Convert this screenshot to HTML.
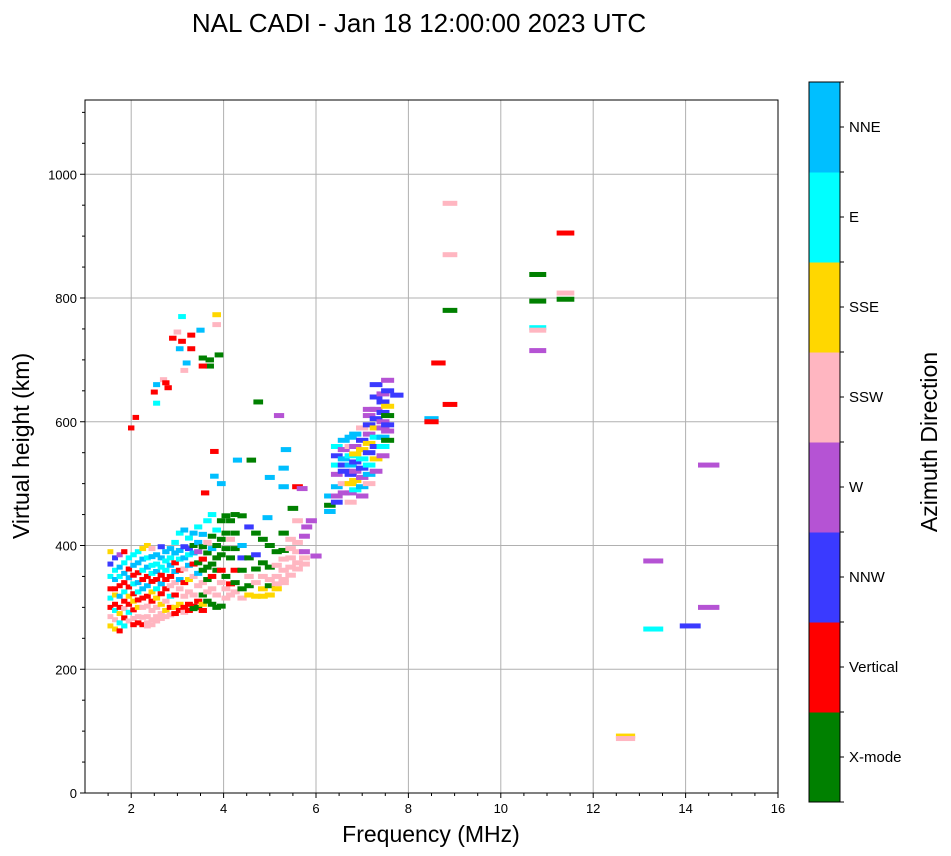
<!DOCTYPE html>
<html><head><meta charset="utf-8"><style>
body{margin:0;background:#fff;}
svg{display:block;font-family:"Liberation Sans","DejaVu Sans",sans-serif;}
</style></head><body>
<svg id="chart" width="951" height="856" viewBox="0 0 951 856" xmlns="http://www.w3.org/2000/svg">
<text x="419" y="32" font-size="26" text-anchor="middle">NAL CADI - Jan 18 12:00:00 2023 UTC</text>
<g id="grid"></g>
<g id="marks"></g>
<rect x="85" y="100" width="693" height="693" fill="none" stroke="#000" stroke-width="1"/>
<g id="axes"></g>
<text x="431" y="842" font-size="23" text-anchor="middle">Frequency (MHz)</text>
<text transform="translate(29,446) rotate(-90)" font-size="23" text-anchor="middle">Virtual height (km)</text>
<g id="cbar"></g>
<text transform="translate(937,442) rotate(-90)" font-size="23" text-anchor="middle">Azimuth Direction</text>
</svg>
<script>
const dirNames=["X-mode","Vertical","NNW","W","SSW","SSE","E","NNE"];
const dirColors=["#008000","#ff0000","#3a3aff","#b553d4","#ffb6c1","#ffd700","#00ffff","#00bfff"];
const xTicks=[2,4,6,8,10,12,14,16];
const yTicks=[0,200,400,600,800,1000];
// low-frequency cluster + sloping trace [freq, height, dir]
const lowPts=[
[1.55,390,5],[1.55,370,2],[1.55,350,6],[1.55,330,1],[1.55,315,6],[1.55,300,1],[1.55,285,4],[1.55,270,5],
[1.65,380,2],[1.65,360,6],[1.65,345,7],[1.65,330,1],[1.65,320,5],[1.65,305,1],[1.65,295,6],[1.65,280,4],[1.65,265,5],
[1.75,385,3],[1.75,365,7],[1.75,350,6],[1.75,335,1],[1.75,318,7],[1.75,300,1],[1.75,290,5],[1.75,275,6],[1.75,262,1],
[1.85,390,1],[1.85,372,6],[1.85,355,7],[1.85,340,1],[1.85,325,6],[1.85,310,1],[1.85,298,4],[1.85,283,1],[1.85,270,6],
[1.95,380,6],[1.95,362,1],[1.95,348,7],[1.95,333,1],[1.95,318,5],[1.95,305,1],[1.95,292,6],[1.95,278,4],
[2.05,385,6],[2.05,368,7],[2.05,352,1],[2.05,338,6],[2.05,322,1],[2.05,310,5],[2.05,296,1],[2.05,282,4],[2.05,272,1],
[2.15,390,6],[2.15,372,7],[2.15,356,1],[2.15,340,7],[2.15,325,6],[2.15,312,1],[2.15,300,5],[2.15,285,4],[2.15,275,1],
[2.25,395,5],[2.25,378,7],[2.25,360,6],[2.25,345,1],[2.25,330,7],[2.25,315,1],[2.25,300,4],[2.25,284,4],[2.25,272,1],
[2.35,400,5],[2.35,380,6],[2.35,365,7],[2.35,350,1],[2.35,335,7],[2.35,318,1],[2.35,302,4],[2.35,285,4],[2.35,275,4],[2.35,270,4],
[2.45,395,4],[2.45,382,7],[2.45,368,6],[2.45,355,6],[2.45,342,1],[2.45,325,5],[2.45,310,1],[2.45,295,4],[2.45,280,4],[2.45,272,4],
[2.55,385,7],[2.55,370,6],[2.55,358,7],[2.55,345,1],[2.55,330,6],[2.55,315,5],[2.55,300,4],[2.55,285,4],[2.55,278,4],
[2.65,398,2],[2.65,380,7],[2.65,365,6],[2.65,352,1],[2.65,338,7],[2.65,322,1],[2.65,305,5],[2.65,290,4],[2.65,282,4],
[2.75,390,7],[2.75,375,6],[2.75,360,6],[2.75,345,1],[2.75,330,1],[2.75,310,4],[2.75,295,5],[2.75,285,4],
[2.85,395,7],[2.85,380,6],[2.85,368,7],[2.85,350,1],[2.85,335,4],[2.85,318,6],[2.85,300,1],[2.85,288,4],
[2.95,405,6],[2.95,388,7],[2.95,372,1],[2.95,358,7],[2.95,340,4],[2.95,320,1],[2.95,300,5],[2.95,290,1],
[3.05,420,6],[3.05,392,7],[3.05,378,6],[3.05,360,1],[3.05,345,7],[3.05,330,4],[3.05,305,5],[3.05,295,1],
[3.15,425,7],[3.15,398,2],[3.15,380,7],[3.15,362,4],[3.15,340,1],[3.15,318,4],[3.15,300,1],[3.15,292,4],
[3.25,412,6],[3.25,395,2],[3.25,385,6],[3.25,368,7],[3.25,345,5],[3.25,325,4],[3.25,305,1],[3.25,295,1],
[3.35,420,7],[3.35,400,0],[3.35,388,7],[3.35,370,1],[3.35,350,4],[3.35,320,4],[3.35,302,1],[3.35,298,0],
[3.45,430,6],[3.45,405,7],[3.45,390,3],[3.45,372,0],[3.45,355,7],[3.45,335,4],[3.45,310,1],[3.45,300,0],
[3.55,418,7],[3.55,398,0],[3.55,378,1],[3.55,360,0],[3.55,340,4],[3.55,320,0],[3.55,305,5],[3.55,295,1],
[3.65,440,6],[3.65,405,4],[3.65,388,0],[3.65,365,0],[3.65,345,0],[3.65,325,4],[3.65,310,0],
[3.75,450,6],[3.75,415,0],[3.75,395,7],[3.75,370,0],[3.75,350,1],[3.75,330,4],[3.75,305,0],
[3.85,425,6],[3.85,400,0],[3.85,380,0],[3.85,360,0],[3.85,320,4],[3.85,300,0],
[3.95,440,0],[3.95,410,0],[3.95,385,0],[3.95,360,1],[3.95,340,4],[3.95,302,0],
[4.05,448,0],[4.05,420,0],[4.05,395,0],[4.05,350,0],[4.05,330,4],[4.05,315,4],
[4.15,440,0],[4.15,410,4],[4.15,380,0],[4.15,338,1],[4.15,320,4],
[4.25,450,0],[4.25,420,0],[4.25,395,0],[4.25,360,1],[4.25,340,0],[4.25,325,4],
[4.4,448,0],[4.4,400,7],[4.4,380,2],[4.4,360,0],[4.4,330,0],[4.4,315,4],
[4.55,430,2],[4.55,380,0],[4.55,350,4],[4.55,335,0],[4.55,320,5],
[4.7,420,0],[4.7,385,2],[4.7,362,0],[4.7,340,4],[4.7,318,5],
[4.85,410,0],[4.85,372,0],[4.85,350,4],[4.85,330,5],[4.85,318,5],
[5.0,400,0],[5.0,365,0],[5.0,345,4],[5.0,335,0],[5.0,320,5],
[5.15,390,0],[5.15,368,4],[5.15,350,4],[5.15,338,4],[5.15,330,5],
[5.3,420,0],[5.3,392,0],[5.3,378,4],[5.3,360,4],[5.3,345,4],[5.3,340,4],
[5.45,410,4],[5.45,395,4],[5.45,380,4],[5.45,365,4],[5.45,352,4],
[5.6,440,4],[5.6,405,4],[5.6,390,4],[5.6,372,4],[5.6,362,4],
[5.75,415,3],[5.75,390,3],[5.75,370,4],[5.75,380,4]
];
// F2 layer cluster
const f2Pts=[
[6.3,465,0],[6.3,455,7],[6.3,480,7],
[6.45,470,2],[6.45,480,3],[6.45,495,7],[6.45,515,3],[6.45,530,6],[6.45,545,2],[6.45,560,6],
[6.6,485,3],[6.6,500,4],[6.6,520,2],[6.6,530,2],[6.6,540,7],[6.6,555,3],[6.6,570,7],
[6.75,470,4],[6.75,485,3],[6.75,500,5],[6.75,515,2],[6.75,530,7],[6.75,545,6],[6.75,560,4],[6.75,575,7],
[6.85,490,6],[6.85,505,5],[6.85,520,3],[6.85,535,2],[6.85,548,5],[6.85,560,3],[6.85,580,7],
[7.0,480,3],[7.0,495,7],[7.0,510,3],[7.0,525,2],[7.0,540,6],[7.0,555,5],[7.0,570,2],[7.0,590,4],
[7.15,500,4],[7.15,515,7],[7.15,530,6],[7.15,550,2],[7.15,565,5],[7.15,580,3],[7.15,595,2],[7.15,610,3],[7.15,620,3],
[7.3,520,3],[7.3,540,5],[7.3,560,2],[7.3,575,6],[7.3,590,5],[7.3,605,2],[7.3,620,3],[7.3,640,2],[7.3,660,2],
[7.45,545,3],[7.45,560,6],[7.45,575,7],[7.45,590,3],[7.45,600,3],[7.45,615,2],[7.45,632,2],[7.45,645,3],
[7.55,570,0],[7.55,585,3],[7.55,595,2],[7.55,610,0],[7.55,625,5],[7.55,650,2],[7.55,667,3],[7.75,643,2]
];
// scattered echoes
const sparsePts=[
[2.0,590,1],[2.1,607,1],[2.5,648,1],[2.55,660,7],[2.55,630,6],[2.7,668,4],[2.75,663,1],[2.8,655,1],
[2.9,735,1],[3.0,745,4],[3.1,770,6],[3.1,730,1],[3.05,718,7],[3.15,683,4],[3.2,695,7],[3.3,740,1],[3.3,718,1],
[3.5,748,7],[3.55,703,0],[3.7,700,0],[3.7,690,0],[3.85,773,5],[3.85,757,4],[3.9,708,0],[3.55,690,1],
[3.6,485,1],[3.8,552,1],[3.8,512,7],[3.95,500,7],[4.3,538,7],[4.6,538,0],[4.75,632,0],[5.2,610,3],
[5.35,555,7],[5.3,525,7],[5.0,510,7],[5.6,495,1],[5.7,492,3],[5.5,460,0],[5.3,495,7],[4.95,445,7],
[5.9,440,3],[6.0,383,3],[5.8,430,3],
[8.5,605,7],[8.5,600,1],[8.65,695,1],[8.9,628,1],[8.9,780,0],[8.9,870,4],[8.9,953,4],
[10.8,838,0],[10.8,795,0],[10.8,752,6],[10.8,748,4],[10.8,715,3],[11.4,905,1],[11.4,808,4],[11.4,798,0],
[12.7,92,5],[12.7,88,4],[13.3,375,3],[13.3,265,6],[14.1,270,2],[14.5,530,3],[14.5,300,3]
];
const NS="http://www.w3.org/2000/svg";
const X0=85,X1=778,Y0=100,Y1=793,xmin=1,xmax=16,ymin=0,ymax=1120;
const xs=f=>X0+(f-xmin)/(xmax-xmin)*(X1-X0);
const ys=h=>Y1-(h-ymin)/(ymax-ymin)*(Y1-Y0);
function mk(t,a,p){const e=document.createElementNS(NS,t);for(const k in a)e.setAttribute(k,a[k]);p.appendChild(e);return e;}
const grid=document.getElementById('grid'),axes=document.getElementById('axes'),marks=document.getElementById('marks'),cbar=document.getElementById('cbar');
xTicks.forEach(v=>{const x=xs(v);
 if(v<16){const g=mk('line',{x1:x,x2:x,y1:Y0,y2:Y1,stroke:'#b0b0b0','stroke-width':1},grid);
 
 }
 mk('line',{x1:x,x2:x,y1:Y1,y2:Y1+5,stroke:'#000'},axes);
 const t=mk('text',{x:x,y:Y1+20,'font-size':13,'text-anchor':'middle'},axes);t.textContent=v;
 
 });
for(let v=1.5;v<16;v+=0.5){if(v%2===0)continue;const x=xs(v);mk('line',{x1:x,x2:x,y1:Y1,y2:Y1+3,stroke:'#000'},axes);}
yTicks.forEach(v=>{const y=ys(v);
 if(v>0){const g=mk('line',{x1:X0,x2:X1,y1:y,y2:y,stroke:'#b0b0b0','stroke-width':1},grid);
 
 }
 mk('line',{x1:X0-5,x2:X0,y1:y,y2:y,stroke:'#000'},axes);
 const t=mk('text',{x:X0-8,y:y+5,'font-size':13,'text-anchor':'end'},axes);t.textContent=v;
 
 });
for(let v=50;v<1120;v+=50){if(v%200===0)continue;const y=ys(v);mk('line',{x1:X0-3,x2:X0,y1:y,y2:y,stroke:'#000'},axes);}
[lowPts,f2Pts,sparsePts].forEach(arr=>arr.forEach(p=>{
 const f=p[0],h=p[1],d=p[2];
 const wm=(1.2*f+4)/46.2;
 const x=xs(f-wm/2),w=xs(f+wm/2)-x;
 const r=mk('rect',{x:x,y:ys(h)-2.5,width:w,height:5,fill:dirColors[d]},marks);
 
 }));
// colorbar
const CX=809,CW=31,CT=82,CB=802,seg=(CB-CT)/dirNames.length;
dirNames.forEach((n,i)=>{const y=CB-(i+1)*seg;
 const r=mk('rect',{x:CX,y:y,width:CW,height:seg+0.5,fill:dirColors[i]},cbar);
 
 
 mk('line',{x1:CX+CW,x2:CX+CW+4,y1:y+seg/2,y2:y+seg/2,stroke:'#000'},cbar);
 const t=mk('text',{x:CX+CW+9,y:y+seg/2+5,'font-size':15},cbar);t.textContent=n;
 
 });
for(let i=0;i<=dirNames.length;i++){const y=CT+i*seg;mk('line',{x1:CX+CW,x2:CX+CW+4,y1:y,y2:y,stroke:'#000'},cbar);}
mk('rect',{x:CX,y:CT,width:CW,height:CB-CT,fill:'none',stroke:'#000'},cbar);
</script>
</body></html>
